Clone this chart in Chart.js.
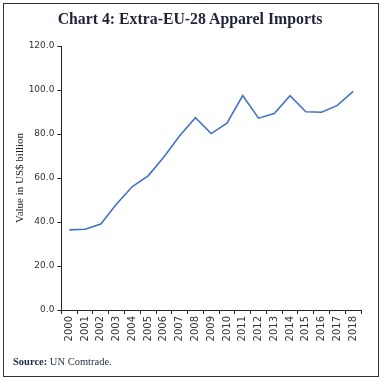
<!DOCTYPE html>
<html>
<head>
<meta charset="utf-8">
<script src="https://cdn.jsdelivr.net/npm/chart.js@4"></script>
<style>
  body { margin: 0; background: #fff; }
  #wrap { position: relative; width: 382px; height: 380px; }
  #frame { position: absolute; left: 3px; top: 3px; width: 374px; height: 372px; border: 1px solid #333; }
  #title { position: absolute; left: 0; width: 380px; top: 10px; text-align: center;
    font: bold 15.8px "Liberation Serif", serif; color: #1f2238; }
  #src { position: absolute; left: 13px; top: 356px; font: 10.5px "Liberation Serif", serif; color: #1f2a44; }
</style>
</head>
<body>
<div id="wrap">
  <canvas id="lineChart" width="382" height="380"></canvas>
  <div id="frame"></div>
  <div id="title">Chart 4: Extra-EU-28 Apparel Imports</div>
  <div id="src"><b>Source:</b> UN Comtrade.</div>
</div>
<script>
// Extra-EU-28 apparel imports, US$ billion
const years = ["2000", "2001", "2002", "2003", "2004", "2005", "2006", "2007", "2008", "2009",
  "2010", "2011", "2012", "2013", "2014", "2015", "2016", "2017", "2018"];
const imports = [36.4, 36.7, 39.1, 48.2, 56.1, 61.0, 69.5, 79.2, 87.4, 80.2,
  84.9, 97.5, 87.2, 89.3, 97.4, 90.1, 89.9, 93.0, 99.4];
const yTicks = [0, 20, 40, 60, 80, 100, 120];

const ctx1 = document.getElementById("lineChart").getContext("2d");
new Chart(ctx1, {
  type: "line",
  data: {
    labels: years,
    datasets: [
      {
        label: "Imports",
        data: imports,
        borderColor: "#4472c4",
        borderWidth: 1.6,
        pointRadius: 0,
        tension: 0,
        fill: false,
      },
    ],
  },
  options: {
    responsive: false,
    animation: false,
    layout: { padding: { top: 46, left: 10, right: 21, bottom: 30 } },
    plugins: {
      legend: { display: false },
      tooltip: { enabled: false },
      title: { display: false },
    },
    scales: {
      x: {
        offset: true,
        grid: { offset: true, drawOnChartArea: false, tickLength: 4, color: "#222" },
        border: { color: "#222", width: 1 },
        ticks: {
          minRotation: 90,
          maxRotation: 90,
          padding: 2,
          color: "#333",
          font: { family: "DejaVu Sans", size: 10 },
        },
        afterFit: (s) => { s.height = 40; },
      },
      y: {
        min: 0,
        max: 120,
        afterBuildTicks: (s) => { s.ticks = yTicks.map((v) => ({ value: v })); },
        grid: { drawOnChartArea: false, tickLength: 4, color: "#222" },
        border: { color: "#222", width: 1 },
        ticks: {
          padding: 3,
          color: "#333",
          font: { family: "DejaVu Sans", size: 9 },
          callback: (v) => v.toFixed(1),
        },
        title: {
          display: true,
          text: "Value in US$ billion",
          color: "#222",
          font: { family: "Liberation Serif", size: 11 },
          padding: { top: 4, bottom: 0 },
        },
        afterFit: (s) => { s.width = 51.4; },
      },
    },
  },
});
</script>
</body>
</html>
